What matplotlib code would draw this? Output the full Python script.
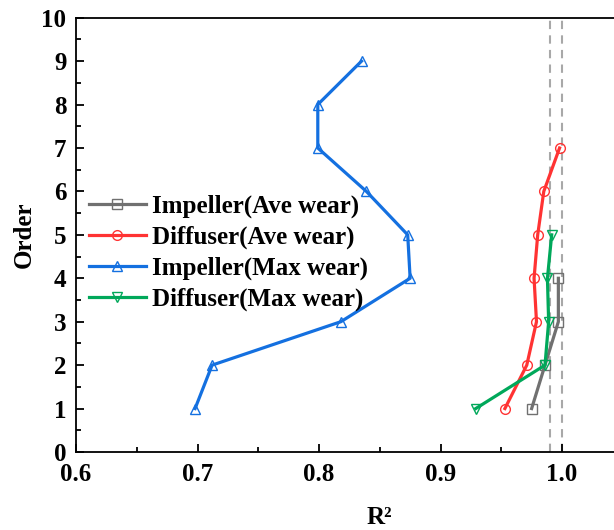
import numpy as np
import matplotlib.pyplot as plt
from matplotlib.ticker import MultipleLocator

plt.rcParams['font.family'] = ['Liberation Serif', 'DejaVu Serif']
plt.rcParams['font.weight'] = 'bold'

# data
order = [1, 2, 3, 4, 5, 6, 7, 8, 9]
imp_ave = [0.975, 0.986, 0.997, 0.997]
dif_ave = [0.953, 0.971, 0.979, 0.977, 0.980, 0.985, 0.998]
imp_max = [0.698, 0.712, 0.818, 0.875, 0.873, 0.839, 0.799, 0.799, 0.835]
dif_max = [0.929, 0.986, 0.989, 0.988, 0.9915]
ref_lines = [0.99, 1.0]

fig = plt.figure(figsize=(6.14, 5.30), dpi=100)
ax = fig.add_axes([0.1238, 0.1472, 0.9894, 0.8194])

for xv in ref_lines:
    ax.axvline(xv, color='#A8A8A8', lw=1.5, ls=(0, (4, 3)), zorder=1)

kw = dict(lw=2.3, markersize=7, markerfacecolor='none', markeredgewidth=1.0)
ax.plot(imp_ave, order[:len(imp_ave)], marker='s', color='#707070',
        label='Impeller(Ave wear)', **kw)
ax.plot(dif_ave, order[:len(dif_ave)], marker='o', color='#FF3333',
        label='Diffuser(Ave wear)', **kw)
ax.plot(imp_max, order[:len(imp_max)], marker='^', color='#1470E0',
        label='Impeller(Max wear)', **kw)
ax.plot(dif_max, order[:len(dif_max)], marker='v', color='#00A85A',
        label='Diffuser(Max wear)', **kw)

ax.set_xlim(0.6, 1.1)
ax.set_ylim(0, 10)
ax.xaxis.set_major_locator(MultipleLocator(0.1))
ax.xaxis.set_minor_locator(MultipleLocator(0.05))
ax.yaxis.set_major_locator(MultipleLocator(1))
ax.yaxis.set_minor_locator(MultipleLocator(0.5))
ax.set_xticks([0.6, 0.7, 0.8, 0.9, 1.0])
ax.set_xticklabels(['0.6', '0.7', '0.8', '0.9', '1.0'])
ax.tick_params(which='both', direction='in', labelsize=18, width=1.3)
ax.tick_params(which='major', length=6)
ax.tick_params(which='minor', length=3.5)
ax.tick_params(axis='x', pad=8)
ax.tick_params(axis='y', pad=7)
for s in ax.spines.values():
    s.set_linewidth(1.3)
ax.spines['right'].set_visible(False)

ax.set_xlabel('R²', fontsize=18, fontweight='bold', labelpad=14)
ax.set_ylabel('Order', fontsize=18, fontweight='bold', labelpad=4)

ax.legend(loc='upper left', bbox_to_anchor=(-0.008, 0.632), frameon=False,
          prop={'size': 18, 'weight': 'bold'}, handlelength=2.3,
          handletextpad=0.25, labelspacing=0.3, borderaxespad=0.3)

fig.savefig('out.png', dpi=100)
